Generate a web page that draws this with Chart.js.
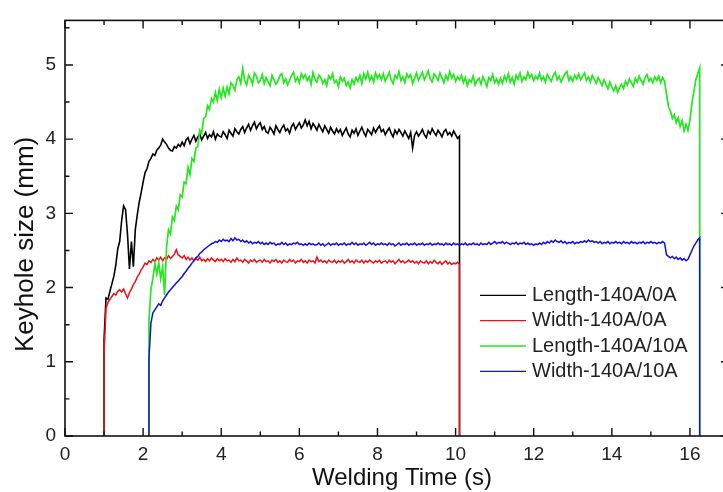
<!DOCTYPE html>
<html>
<head>
<meta charset="utf-8">
<script src="https://cdn.jsdelivr.net/npm/chart.js@4.4.0/dist/chart.umd.min.js"></script>
<style>
  html, body { margin: 0; padding: 0; overflow: hidden; background: #fff; }
  #wrap { width: 740px; height: 492px; }
</style>
</head>
<body>
<div id="wrap"><canvas id="keyholeChart" width="740" height="492"></canvas></div>
<script>
// keyhole monitor samples every 0.05 s
const sampleStep = 0.05;

const seriesNames = ['Length-140A/0A', 'Width-140A/0A', 'Length-140A/10A', 'Width-140A/10A'];
const seriesColors = ['#000000', '#ea1218', '#22e81e', '#1212d4'];
const seriesWidths = [1.6, 1.5, 1.7, 1.5];

// arc on / arc off (s)
const arcOn0A = 1.0;
const arcOff0A = 10.1;
const arcOn10A = 2.15;
const arcOff10A = 16.25;

// keyhole length, 140A / 0A (mm), from 1.00 s
const length0A = [
  1.30, 1.86, 1.84, 1.95, 2.05, 2.15, 2.30, 2.52, 2.62, 2.90, 3.10, 3.05, 2.72, 2.25, 2.62, 2.28, 2.78, 2.98, 3.15, 3.28,
  3.42, 3.55, 3.60, 3.70, 3.74, 3.80, 3.78, 3.85, 3.88, 3.92, 4.00, 3.96, 3.93, 3.88, 3.85, 3.84, 3.90, 3.88, 3.93, 3.90,
  3.96, 3.91, 3.99, 4.02, 3.94, 4.00, 4.05, 3.97, 4.03, 4.07, 3.99, 4.04, 4.09, 4.01, 4.06, 4.03, 4.10, 4.00, 4.07, 4.04,
  4.03, 4.10, 4.06, 4.01, 4.12, 4.08, 4.04, 4.14, 4.10, 4.07, 4.13, 4.17, 4.09, 4.15, 4.20, 4.12, 4.18, 4.23, 4.14, 4.19,
  4.22, 4.13, 4.17, 4.10, 4.08, 4.16, 4.12, 4.07, 4.18, 4.13, 4.09, 4.15, 4.19, 4.11, 4.14, 4.08, 4.17, 4.21, 4.13, 4.18,
  4.22, 4.15, 4.19, 4.26, 4.18, 4.24, 4.14, 4.21, 4.17, 4.12, 4.20, 4.15, 4.10, 4.18, 4.13, 4.08, 4.16, 4.11, 4.07, 4.14,
  4.09, 4.13, 4.05, 4.10, 4.15, 4.07, 4.03, 4.12, 4.08, 4.14, 4.05, 4.11, 4.16, 4.09, 4.04, 4.13, 4.10, 4.06, 4.15, 4.09,
  4.14, 4.18, 4.10, 4.13, 4.06, 4.11, 4.15, 4.08, 4.03, 4.12, 4.07, 4.13, 4.09, 4.04, 4.11, 4.06, 4.01, 4.09, 3.88, 4.05,
  4.10, 4.04, 4.08, 4.13, 4.06, 4.02, 4.11, 4.07, 4.14, 4.09, 4.05, 4.12, 4.08, 4.03, 4.10, 4.13, 4.06, 4.09, 4.04, 4.11,
  4.06, 4.01, 4.04
];

// keyhole width, 140A / 0A (mm), from 1.00 s
const width0A = [
  1.10, 1.72, 1.80, 1.84, 1.88, 1.92, 1.90, 1.95, 1.97, 1.94, 1.98, 1.92, 1.86, 1.93, 1.98, 2.04, 2.08, 2.14, 2.18, 2.24,
  2.28, 2.33, 2.31, 2.36, 2.34, 2.38, 2.35, 2.40, 2.37, 2.41, 2.36, 2.40, 2.38, 2.43, 2.39, 2.42, 2.45, 2.51, 2.44, 2.42,
  2.40, 2.43, 2.38, 2.41, 2.37, 2.40, 2.36, 2.39, 2.37, 2.41, 2.36, 2.38, 2.35, 2.39, 2.36, 2.40, 2.37, 2.35, 2.39, 2.36,
  2.38, 2.35, 2.39, 2.36, 2.37, 2.34, 2.38, 2.35, 2.40, 2.36, 2.37, 2.34, 2.38, 2.36, 2.33, 2.37, 2.35, 2.38, 2.34, 2.36,
  2.37, 2.34, 2.38, 2.35, 2.36, 2.33, 2.37, 2.35, 2.38, 2.34, 2.36, 2.33, 2.37, 2.35, 2.34, 2.38, 2.35, 2.37, 2.33, 2.36,
  2.35, 2.38, 2.34, 2.36, 2.33, 2.37, 2.35, 2.36, 2.33, 2.41, 2.35, 2.37, 2.34, 2.36, 2.33, 2.37, 2.35, 2.34, 2.37, 2.33,
  2.36, 2.34, 2.37, 2.33, 2.35, 2.38, 2.34, 2.36, 2.33, 2.37, 2.35, 2.34, 2.37, 2.33, 2.36, 2.34, 2.37, 2.35, 2.33, 2.36,
  2.34, 2.37, 2.33, 2.35, 2.36, 2.33, 2.37, 2.34, 2.36, 2.32, 2.35, 2.38, 2.34, 2.36, 2.33, 2.35, 2.37, 2.34, 2.36, 2.33,
  2.35, 2.32, 2.36, 2.34, 2.33, 2.36, 2.32, 2.35, 2.33, 2.37, 2.34, 2.32, 2.35, 2.31, 2.34, 2.36, 2.32, 2.34, 2.31, 2.33,
  2.32, 2.34, 2.31
];

// keyhole length, 140A / 10A (mm), from 2.15 s
const length10A = [
  1.55, 1.98, 2.12, 2.32, 2.18, 2.34, 2.12, 2.28, 1.90, 2.55, 2.78, 2.72, 2.95, 2.90, 3.10, 3.05, 3.25, 3.22, 3.42, 3.40,
  3.62, 3.52, 3.74, 3.70, 3.88, 3.90, 4.12, 4.08, 4.28, 4.30, 4.45, 4.40, 4.55, 4.50, 4.63, 4.52, 4.67, 4.56, 4.69, 4.58,
  4.70, 4.61, 4.76, 4.72, 4.66, 4.80, 4.84, 4.75, 4.95, 4.79, 4.73, 4.86, 4.82, 4.74, 4.89, 4.85, 4.76, 4.79, 4.87, 4.75,
  4.83, 4.77, 4.72, 4.86, 4.80, 4.74, 4.78, 4.85, 4.88, 4.76, 4.81, 4.73, 4.79, 4.86, 4.90, 4.78, 4.83, 4.76, 4.88, 4.82,
  4.87, 4.79, 4.84, 4.74, 4.90, 4.81, 4.77, 4.86, 4.83, 4.75, 4.80, 4.72, 4.85, 4.81, 4.88, 4.76, 4.79, 4.71, 4.84, 4.78,
  4.82, 4.72, 4.77, 4.69, 4.80, 4.74, 4.83, 4.78, 4.86, 4.75, 4.88, 4.81, 4.90, 4.79, 4.85, 4.77, 4.89, 4.82, 4.87, 4.80,
  4.88, 4.78, 4.84, 4.90, 4.80, 4.75, 4.86, 4.82, 4.91, 4.79, 4.84, 4.76, 4.88, 4.83, 4.87, 4.75, 4.82, 4.89, 4.79, 4.85,
  4.90, 4.80, 4.86, 4.92, 4.81, 4.77, 4.88, 4.84, 4.79, 4.89, 4.83, 4.76, 4.86, 4.80, 4.91, 4.82, 4.87, 4.78, 4.84, 4.80,
  4.86, 4.76, 4.83, 4.72, 4.80, 4.77, 4.85, 4.73, 4.79, 4.82, 4.74, 4.84, 4.78, 4.71, 4.83, 4.79, 4.87, 4.76, 4.81, 4.74,
  4.82, 4.75, 4.85, 4.79, 4.88, 4.77, 4.83, 4.74, 4.86, 4.81, 4.89, 4.78, 4.84, 4.80, 4.90, 4.83, 4.87, 4.79, 4.85, 4.81,
  4.89, 4.79, 4.84, 4.77, 4.87, 4.82, 4.78, 4.86, 4.90, 4.80, 4.85, 4.77, 4.83, 4.88, 4.91, 4.79, 4.84, 4.78, 4.86, 4.81,
  4.88, 4.80, 4.85, 4.89, 4.79, 4.84, 4.77, 4.86, 4.81, 4.75, 4.83, 4.78, 4.72, 4.80, 4.74, 4.68, 4.77, 4.70, 4.65, 4.72,
  4.63, 4.70, 4.74, 4.68, 4.78, 4.73, 4.81, 4.76, 4.71, 4.82, 4.77, 4.85, 4.79, 4.74, 4.83, 4.87, 4.78, 4.82, 4.76, 4.84,
  4.79, 4.85, 4.76, 4.83, 4.78, 4.60, 4.44, 4.38, 4.28, 4.33, 4.22, 4.29, 4.17, 4.25, 4.11, 4.20, 4.12, 4.26, 4.48, 4.64,
  4.80, 4.88, 4.96
];

// keyhole width, 140A / 10A (mm), from 2.15 s
const width10A = [
  1.05, 1.52, 1.66, 1.70, 1.74, 1.78, 1.76, 1.82, 1.86, 1.90, 1.94, 1.97, 2.00, 2.03, 2.06, 2.09, 2.12, 2.15, 2.19, 2.22,
  2.26, 2.29, 2.33, 2.36, 2.40, 2.42, 2.46, 2.48, 2.51, 2.53, 2.55, 2.57, 2.59, 2.60, 2.62, 2.61, 2.64, 2.62, 2.65, 2.63,
  2.64, 2.62, 2.66, 2.63, 2.67, 2.64, 2.65, 2.62, 2.64, 2.61, 2.63, 2.60, 2.62, 2.59, 2.61, 2.60, 2.62, 2.59, 2.61, 2.58,
  2.60, 2.58, 2.61, 2.59, 2.60, 2.57, 2.59, 2.58, 2.61, 2.58, 2.60, 2.57, 2.59, 2.58, 2.60, 2.59, 2.61, 2.58, 2.59, 2.57,
  2.59, 2.57, 2.60, 2.58, 2.59, 2.57, 2.58, 2.60, 2.57, 2.59, 2.56, 2.58, 2.60, 2.57, 2.59, 2.58, 2.60, 2.57, 2.59, 2.58,
  2.60, 2.57, 2.59, 2.58, 2.61, 2.58, 2.60, 2.57, 2.59, 2.58, 2.60, 2.57, 2.59, 2.61, 2.58, 2.60, 2.57, 2.59, 2.58, 2.60,
  2.58, 2.59, 2.57, 2.60, 2.58, 2.59, 2.56, 2.58, 2.60, 2.57, 2.59, 2.58, 2.60, 2.57, 2.59, 2.58, 2.60, 2.57, 2.59, 2.58,
  2.60, 2.57, 2.59, 2.58, 2.60, 2.57, 2.59, 2.58, 2.60, 2.58, 2.59, 2.57, 2.60, 2.58, 2.59, 2.57, 2.60, 2.58, 2.59, 2.57,
  2.59, 2.58, 2.60, 2.57, 2.59, 2.58, 2.60, 2.58, 2.59, 2.57, 2.60, 2.58, 2.59, 2.58, 2.61, 2.58, 2.60, 2.62, 2.59, 2.61,
  2.60, 2.62, 2.59, 2.61, 2.60, 2.58, 2.60, 2.59, 2.61, 2.58, 2.60, 2.59, 2.61, 2.58, 2.60, 2.58, 2.59, 2.57, 2.59, 2.58,
  2.60, 2.58, 2.61, 2.59, 2.62, 2.60, 2.63, 2.61, 2.64, 2.62, 2.61, 2.63, 2.60, 2.62, 2.59, 2.61, 2.60, 2.62, 2.59, 2.61,
  2.60, 2.62, 2.61, 2.63, 2.61, 2.64, 2.62, 2.63, 2.61, 2.62, 2.60, 2.62, 2.59, 2.61, 2.60, 2.62, 2.59, 2.61, 2.60, 2.62,
  2.60, 2.61, 2.59, 2.62, 2.60, 2.61, 2.59, 2.62, 2.60, 2.61, 2.59, 2.61, 2.60, 2.62, 2.59, 2.61, 2.60, 2.62, 2.60, 2.61,
  2.59, 2.61, 2.60, 2.62, 2.60, 2.44, 2.42, 2.40, 2.42, 2.39, 2.41, 2.38, 2.40, 2.37, 2.39, 2.36, 2.38, 2.44, 2.50, 2.56,
  2.60, 2.64, 2.67
];

const xTickValues = [0, 2, 4, 6, 8, 10, 12, 14, 16];
const yTickValues = [0, 1, 2, 3, 4, 5];
const xMinorStep = 1;
const yMinorStep = 0.5;
const xRange = [0, 17];
const yRange = [0, 5.6];

const fontFamily = '"Liberation Sans", Arial, sans-serif';

// rise at arc on, samples, drop at arc off
function toPoints(arcOn, arcOff, values) {
  const pts = [{ x: arcOn, y: 0 }];
  values.forEach((v, i) => {
    pts.push({ x: +(arcOn + i * sampleStep).toFixed(2), y: v });
  });
  pts.push({ x: arcOff, y: 0 });
  return pts;
}

const seriesPoints = [
  toPoints(arcOn0A, arcOff0A, length0A),
  toPoints(arcOn0A, arcOff0A, width0A),
  toPoints(arcOn10A, arcOff10A, length10A),
  toPoints(arcOn10A, arcOff10A, width10A)
];

// box frame with inward ticks on all four sides, plus axis titles
const frameTicks = {
  id: 'frameTicks',
  afterDatasetsDraw(chart) {
    const { ctx, chartArea: a, scales: { x, y } } = chart;
    ctx.save();
    ctx.strokeStyle = '#111';
    ctx.lineWidth = 1.4;
    ctx.beginPath();
    for (let v = x.min; v <= x.max + 1e-6; v += xMinorStep) {
      const px = x.getPixelForValue(v);
      const len = xTickValues.includes(v) ? 8 : 4.5;
      ctx.moveTo(px, a.bottom); ctx.lineTo(px, a.bottom - len);
      ctx.moveTo(px, a.top); ctx.lineTo(px, a.top + len);
    }
    for (let v = y.min; v <= y.max + 1e-6; v += yMinorStep) {
      const py = y.getPixelForValue(v);
      const len = yTickValues.includes(v) ? 8 : 4.5;
      ctx.moveTo(a.left, py); ctx.lineTo(a.left + len, py);
      ctx.moveTo(a.right, py); ctx.lineTo(a.right - len, py);
    }
    ctx.stroke();
    ctx.lineWidth = 1.6;
    ctx.strokeRect(a.left, a.top, a.right - a.left, a.bottom - a.top);

    ctx.fillStyle = '#111';
    ctx.textAlign = 'center';
    ctx.textBaseline = 'middle';
    ctx.font = '24px ' + fontFamily;
    ctx.fillText('Welding Time (s)', a.left + 337, a.bottom + 42);
    ctx.translate(26, a.top + 224);
    ctx.rotate(-Math.PI / 2);
    ctx.font = '26px ' + fontFamily;
    ctx.fillText('Keyhole size (mm)', 0, 0);
    ctx.restore();
  }
};

// legend box sitting inside the plot, lower right
const insideLegend = {
  id: 'insideLegend',
  afterDraw(chart) {
    const { ctx, chartArea: a } = chart;
    ctx.save();
    ctx.font = '20px ' + fontFamily;
    ctx.textBaseline = 'middle';
    ctx.textAlign = 'left';
    seriesNames.forEach((name, i) => {
      const rowY = a.top + 275 + i * 25.3;
      ctx.strokeStyle = seriesColors[i];
      ctx.lineWidth = 1.3;
      ctx.beginPath();
      ctx.moveTo(a.left + 415, rowY);
      ctx.lineTo(a.left + 461, rowY);
      ctx.stroke();
      ctx.fillStyle = '#222';
      ctx.fillText(name, a.left + 467, rowY);
    });
    ctx.restore();
  }
};

const ctx = document.getElementById('keyholeChart').getContext('2d');

new Chart(ctx, {
  type: 'line',
  data: {
    datasets: seriesNames.map((name, i) => ({
      label: name,
      data: seriesPoints[i],
      borderColor: seriesColors[i],
      borderWidth: seriesWidths[i],
      pointRadius: 0,
      tension: 0,
      fill: false,
      // later series are drawn over earlier ones
      order: seriesNames.length - i
    }))
  },
  options: {
    responsive: false,
    animation: false,
    parsing: false,
    layout: { padding: { left: 0, right: 11, top: 11, bottom: 0 } },
    scales: {
      x: {
        type: 'linear',
        min: xRange[0],
        max: xRange[1],
        afterBuildTicks: s => { s.ticks = xTickValues.map(v => ({ value: v })); },
        afterFit: s => { s.height = 56; },
        grid: { display: false, drawTicks: false },
        border: { display: false },
        ticks: {
          padding: 7,
          color: '#222',
          maxRotation: 0,
          autoSkip: false,
          font: { family: fontFamily, size: 19 }
        }
      },
      y: {
        type: 'linear',
        min: yRange[0],
        max: yRange[1],
        afterBuildTicks: s => { s.ticks = yTickValues.map(v => ({ value: v })); },
        afterFit: s => { s.width = 65; },
        grid: { display: false, drawTicks: false },
        border: { display: false },
        ticks: {
          padding: 9,
          color: '#222',
          font: { family: fontFamily, size: 19 }
        }
      }
    },
    plugins: {
      legend: { display: false },
      tooltip: { enabled: false }
    }
  },
  plugins: [frameTicks, insideLegend]
});
</script>
</body>
</html>
